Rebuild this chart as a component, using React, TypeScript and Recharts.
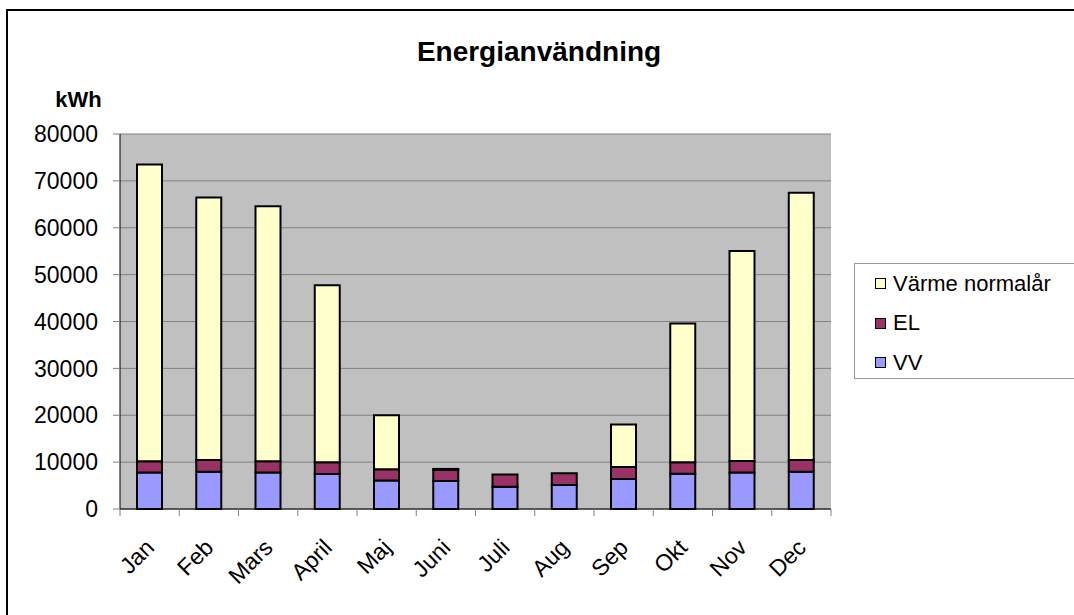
import { BarChart, Bar, XAxis, YAxis, CartesianGrid, Legend } from 'recharts';

const months = ['Jan', 'Feb', 'Mars', 'April', 'Maj', 'Juni', 'Juli', 'Aug', 'Sep', 'Okt', 'Nov', 'Dec'];
const vv = [7800, 7950, 7800, 7450, 6100, 6000, 4750, 5100, 6400, 7500, 7800, 7950];
const el = [2400, 2500, 2400, 2500, 2400, 2350, 2600, 2550, 2550, 2450, 2450, 2500];
const varme = [63300, 56000, 54400, 37800, 11500, 200, 0, 0, 9100, 29600, 44800, 57000];
const yTicks = [0, 10000, 20000, 30000, 40000, 50000, 60000, 70000, 80000];
const legendOrder = ['Värme normalår', 'EL', 'VV'];

const data = months.map((m, i) => ({ month: m, vv: vv[i], el: el[i], varme: varme[i] }));

const FONT = '"Liberation Sans", Arial, sans-serif';

const MonthTick = ({ x, y, payload, index, visibleTicksCount }: any) => {
  const half = payload?.offset ?? 0;
  const tx = x + 6;
  const ty = y + 40;
  return (
    <g>
      <line x1={x - half} x2={x - half} y1={y} y2={y + 7} stroke="#808080" />
      {index === visibleTicksCount - 1 && (
        <line x1={x + half} x2={x + half} y1={y} y2={y + 7} stroke="#808080" />
      )}
      <text
        x={tx}
        y={ty}
        textAnchor="end"
        transform={`rotate(-45, ${tx}, ${ty})`}
        fontSize={23}
        fontFamily={FONT}
        fill="#000"
      >
        {payload.value}
      </text>
    </g>
  );
};

const LegendBox = ({ payload }: any) => {
  const items = [...(payload || [])].sort(
    (a: any, b: any) => legendOrder.indexOf(a.value) - legendOrder.indexOf(b.value)
  );
  return (
    <div
      style={{
        width: 240,
        height: 116,
        border: '1px solid #999',
        background: '#fff',
        fontFamily: FONT,
        fontSize: 22,
        boxSizing: 'border-box',
        paddingTop: 0,
      }}
    >
      {items.map((it: any) => (
        <div key={it.value} style={{ display: 'flex', alignItems: 'center', height: 39.5, paddingLeft: 20 }}>
          <span
            style={{
              width: 11,
              height: 11,
              background: it.color,
              border: '1.5px solid #000',
              boxSizing: 'border-box',
              marginRight: 7,
            }}
          />
          <span style={{ lineHeight: 1 }}>{it.value}</span>
        </div>
      ))}
    </div>
  );
};

export default function App() {
  return (
    <div style={{ position: 'absolute', left: 0, top: 0, width: 1074, height: 615, background: '#fff', overflow: 'hidden' }}>
      <div style={{ position: 'absolute', left: 7, top: 9, right: 0, height: 2, background: '#000' }} />
      <div style={{ position: 'absolute', left: 6, top: 9, bottom: 0, width: 2, background: '#000' }} />
      <div
        style={{
          position: 'absolute', left: 0, width: 1078, top: 38, textAlign: 'center',
          fontFamily: FONT, fontWeight: 'bold', fontSize: 28, lineHeight: '28px',
        }}
      >
        Energianvändning
      </div>
      <div
        style={{
          position: 'absolute', left: 0, width: 157, top: 89, textAlign: 'center',
          fontFamily: FONT, fontWeight: 'bold', fontSize: 22, lineHeight: '22px',
        }}
      >
        kWh
      </div>
      <div style={{ position: 'absolute', left: 0, top: 0 }}>
        <BarChart width={1074} height={615} data={data} margin={{ top: 134, right: 243, bottom: 0, left: 0 }}>
          <CartesianGrid vertical={false} fill="#C0C0C0" stroke="#808080" strokeOpacity={1} />
          <XAxis
            dataKey="month"
            height={106}
            interval={0}
            tickLine={false}
            tickSize={0}
            tickMargin={0}
            axisLine={{ stroke: '#000' }}
            tick={<MonthTick />}
          />
          <YAxis
            width={120}
            domain={[0, 80000]}
            ticks={yTicks}
            interval={0}
            tickSize={7}
            tickMargin={15}
            tickLine={{ stroke: '#808080' }}
            axisLine={{ stroke: '#000' }}
            tick={{ fill: '#000', fontSize: 23, fontFamily: FONT }}
          />
          <YAxis
            yAxisId="frame"
            orientation="right"
            width={0}
            domain={[0, 80000]}
            tick={false}
            tickLine={false}
            axisLine={{ stroke: '#808080' }}
          />
          <Legend
            layout="horizontal"
            verticalAlign="middle"
            align="center"
            content={<LegendBox />}
            wrapperStyle={{ left: 854, top: 263, width: 240, height: 116 }}
          />
          <Bar dataKey="vv" name="VV" stackId="a" fill="#9999FF" stroke="#000" strokeWidth={2} barSize={25} isAnimationActive={false} />
          <Bar dataKey="el" name="EL" stackId="a" fill="#993366" stroke="#000" strokeWidth={2} barSize={25} isAnimationActive={false} />
          <Bar dataKey="varme" name="Värme normalår" stackId="a" fill="#FFFFCC" stroke="#000" strokeWidth={2} barSize={25} isAnimationActive={false} />
        </BarChart>
      </div>
    </div>
  );
}
